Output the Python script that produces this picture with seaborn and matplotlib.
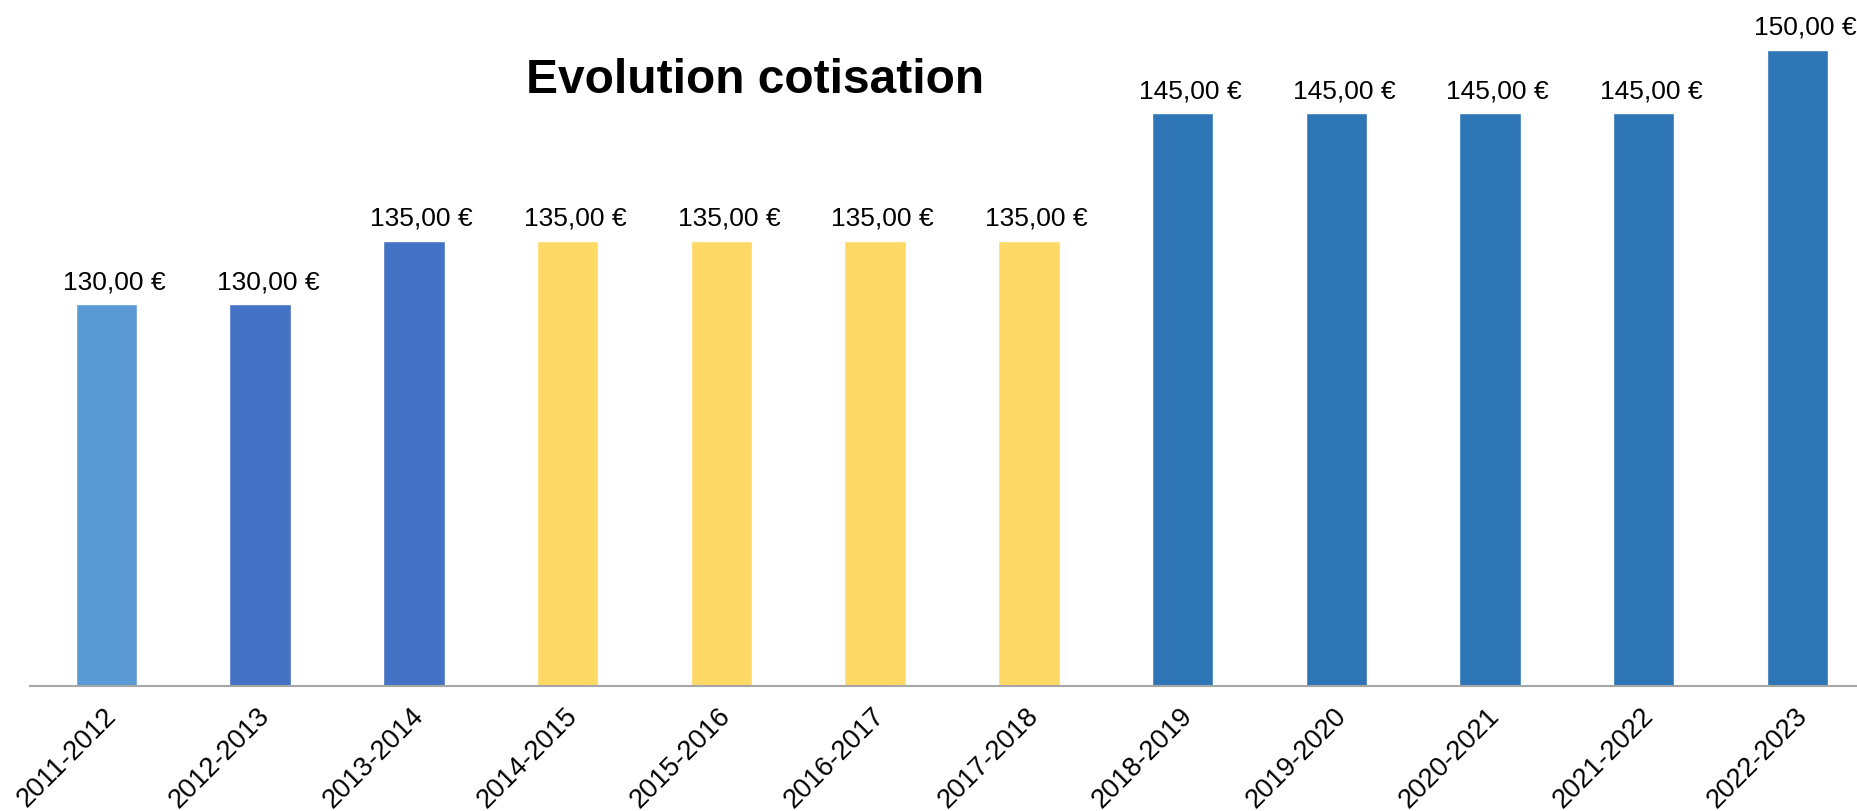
import matplotlib
matplotlib.use("Agg")
import matplotlib.pyplot as plt
import matplotlib.transforms as mtransforms
import seaborn as sns
import pandas as pd

# Data
seasons = ["2011-2012", "2012-2013", "2013-2014", "2014-2015", "2015-2016", "2016-2017",
           "2017-2018", "2018-2019", "2019-2020", "2020-2021", "2021-2022", "2022-2023"]
cotisation = [130, 130, 135, 135, 135, 135, 135, 145, 145, 145, 145, 150]
bar_colors = ["#5B9BD5", "#4472C4", "#4472C4", "#FFD966", "#FFD966", "#FFD966",
              "#FFD966", "#2E75B6", "#2E75B6", "#2E75B6", "#2E75B6", "#2E75B6"]
title = "Evolution cotisation"

sns.set_theme(style="white")
plt.rcParams["font.family"] = ["Liberation Sans", "DejaVu Sans"]

df = pd.DataFrame({"saison": seasons, "cotisation": cotisation})

fig = plt.figure(figsize=(18.57, 8.12), dpi=100)
ax = fig.add_axes([0.01594, 0.1545, 0.9934, 0.8455])

sns.barplot(data=df, x="saison", y="cotisation", hue="saison",
            palette=bar_colors, width=0.4, legend=False, ax=ax,
            saturation=1, dodge=False)

ax.set_ylim(100, 154)
ax.set_xlim(-0.5, 11.5)

for c in ax.containers:
    anns = ax.bar_label(c, labels=[f"{v:.2f}".replace(".", ",") + " €" for v in c.datavalues],
                        padding=8, fontsize=19, color="#000000")
    for a in anns:
        a.xyann = (5.5, 8)

ax.set_xlabel("")
ax.set_ylabel("")
ax.set_yticks([])
for s in ["top", "right", "left"]:
    ax.spines[s].set_visible(False)
ax.spines["bottom"].set_color("#A6A6A6")
ax.spines["bottom"].set_linewidth(1.5)
ax.tick_params(axis="x", length=0, pad=12)
shift = mtransforms.ScaledTranslation(-3.5 / 100, 0, fig.dpi_scale_trans)
for lbl in ax.get_xticklabels():
    lbl.set_rotation(45)
    lbl.set_ha("right")
    lbl.set_va("top")
    lbl.set_rotation_mode("anchor")
    lbl.set_fontsize(19.5)
    lbl.set_color("#000000")
    lbl.set_transform(lbl.get_transform() + shift)

fig.text(0.4068, 0.901, title, ha="center", va="center",
         fontsize=34.5, fontweight="bold", color="#000000")

fig.savefig("out.png", dpi=100, facecolor="white")
